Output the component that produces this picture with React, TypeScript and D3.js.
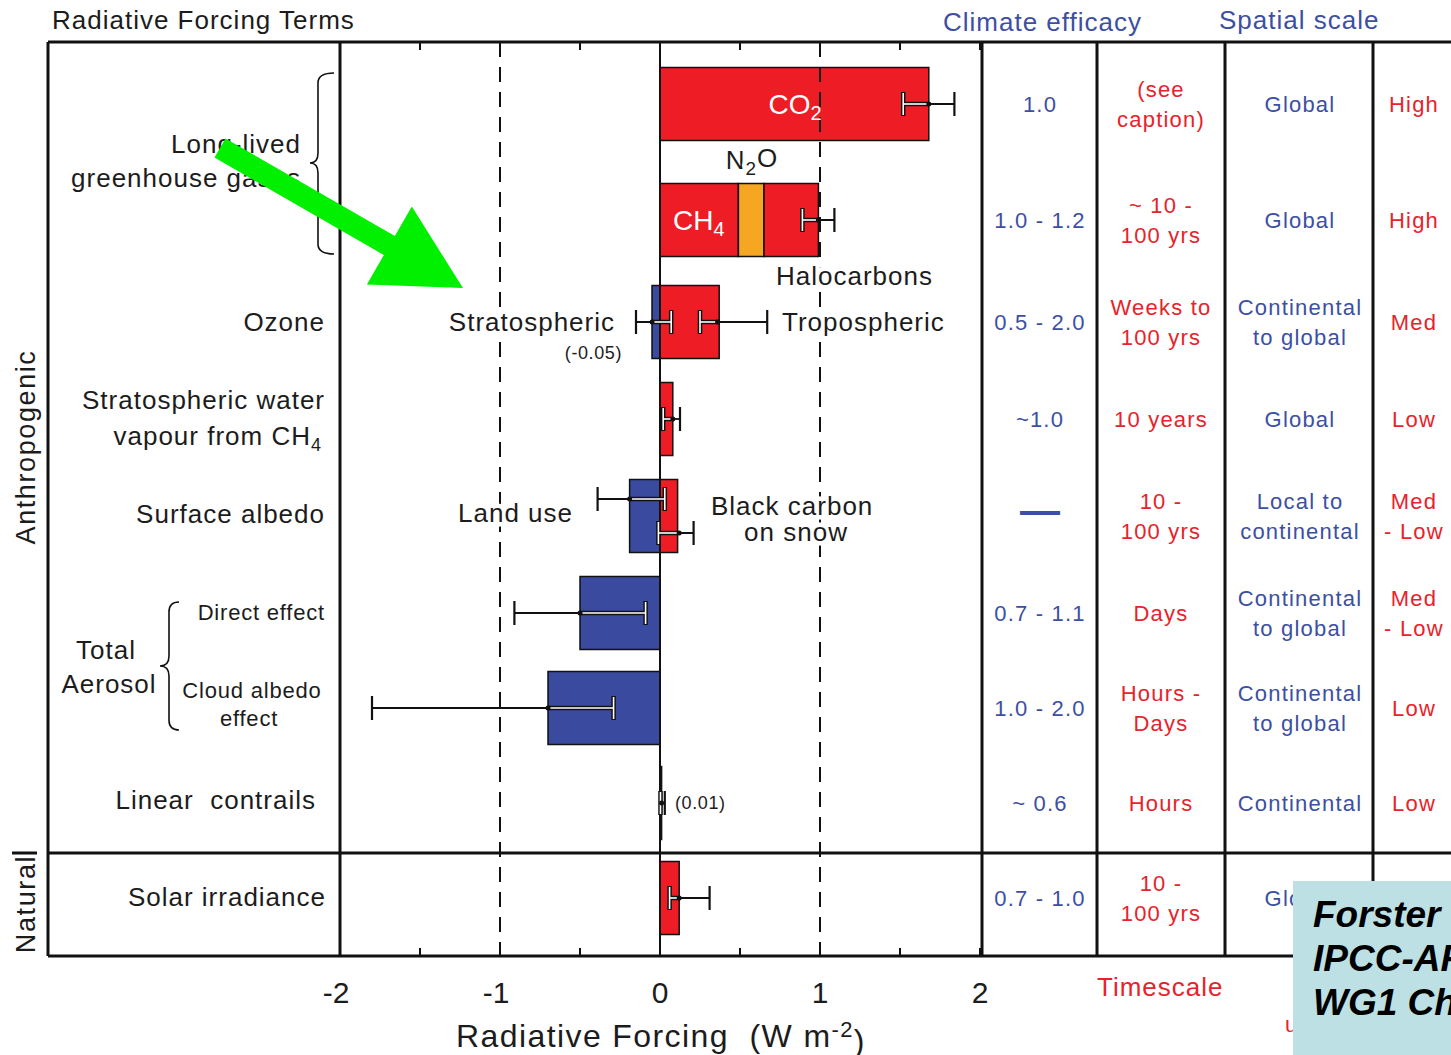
import React from 'react';
import * as d3 from 'd3';

// rows of the chart, top to bottom
const rows = ['co2', 'otherGhg', 'ozone', 'stratH2O', 'albedo', 'aerDirect', 'aerCloud', 'contrails', 'solar'];

// bar segments (W m-2), stacked outward from zero within a row
const barTerms = ['CO2', 'CH4', 'N2O', 'Halocarbons', 'Stratospheric O3', 'Tropospheric O3', 'Strat. H2O', 'Land use', 'BC on snow', 'Direct effect', 'Cloud albedo', 'Contrails', 'Solar'];
const barRows = ['co2', 'otherGhg', 'otherGhg', 'otherGhg', 'ozone', 'ozone', 'stratH2O', 'albedo', 'albedo', 'aerDirect', 'aerCloud', 'contrails', 'solar'];
const barForcing = [1.68, 0.49, 0.16, 0.34, -0.05, 0.37, 0.08, -0.19, 0.11, -0.5, -0.7, 0.01, 0.12];

// uncertainty ranges
const errRows = ['co2', 'otherGhg', 'ozone', 'ozone', 'stratH2O', 'albedo', 'albedo', 'aerDirect', 'aerCloud', 'contrails', 'solar'];
const errBest = [1.68, 0.99, -0.05, 0.36, 0.08, -0.19, 0.12, -0.5, -0.7, 0.01, 0.12];
const errLow = [1.52, 0.89, -0.15, 0.25, 0.02, -0.39, -0.01, -0.91, -1.8, 0.003, 0.06];
const errHigh = [1.84, 1.09, 0.07, 0.67, 0.125, 0.03, 0.21, -0.09, -0.29, 0.03, 0.31];
const errLane = [0, 0, 0, 0, 0, -1, 1, 0, 0, 0, 0];

// table columns
const efficacy = ['1.0', '1.0 - 1.2', '0.5 - 2.0', '~1.0', '\u2014', '0.7 - 1.1', '1.0 - 2.0', '~ 0.6', '0.7 - 1.0'];
const timescale = ['(see\ncaption)', '~ 10 -\n100 yrs', 'Weeks to\n100 yrs', '10 years', '10 -\n100 yrs', 'Days', 'Hours -\nDays', 'Hours', '10 -\n100 yrs'];
const spatial = ['Global', 'Global', 'Continental\nto global', 'Global', 'Local to\ncontinental', 'Continental\nto global', 'Continental\nto global', 'Continental', 'Global'];
const losu = ['High', 'High', 'Med', 'Low', 'Med\n- Low', 'Med\n- Low', 'Low', 'Low', 'Low'];

const xTickLabels = ['-2', '-1', '0', '1', '2'];

const FONT = 'Liberation Sans, Arial, Helvetica, sans-serif';
const RED = '#ee1c25';
const BLUE = '#3a4a9f';
const ORANGE = '#f5a623';
const TXT_RED = '#e8222b';
const TXT_BLUE = '#3c4fa3';
const INK = '#1c1c1c';

const TOP = 42;
const BOTTOM = 956;
const NATURAL = 853;
const BAR_H = 73;

// curly brace "{" with its point at (px, midY)
function brace(px: number, spineX: number, endX: number, top: number, mid: number, bottom: number) {
  const r = 10;
  return `M${endX},${top} Q${spineX},${top} ${spineX},${top + r} L${spineX},${mid - r} Q${spineX},${mid} ${px},${mid} Q${spineX},${mid} ${spineX},${mid + r} L${spineX},${bottom - r} Q${spineX},${bottom} ${endX},${bottom}`;
}

const App: React.FC = () => {
  const x = d3.scaleLinear().domain([-2, 2]).range([340, 980]);
  // rows are not evenly spaced: the greenhouse-gas rows sit further apart
  const y = d3.scaleLinear().domain([0, 1, 2, 5, rows.length - 1]).range([104, 220, 322, 613, 898]);
  const ry = (r: string) => y(rows.indexOf(r));

  // stack the segments per row
  const pos: Record<string, number> = {};
  const neg: Record<string, number> = {};
  const bars = barTerms.map((t, i) => {
    const r = barRows[i];
    const v = barForcing[i];
    let a: number, b: number;
    if (v >= 0) {
      a = pos[r] || 0;
      b = a + v;
      pos[r] = b;
    } else {
      b = neg[r] || 0;
      a = b + v;
      neg[r] = a;
    }
    const fill = t === 'N2O' ? ORANGE : v >= 0 ? RED : BLUE;
    return { t, r, a, b, fill };
  });
  const rowExtent = (r: string) => {
    const bs = bars.filter((d) => d.r === r);
    return [d3.min(bs, (d) => d.a) as number, d3.max(bs, (d) => d.b) as number];
  };

  // green arrow
  const S = [220, 148];
  const T = [463, 288];
  const len = Math.hypot(T[0] - S[0], T[1] - S[1]);
  const u = [(T[0] - S[0]) / len, (T[1] - S[1]) / len];
  const n = [-u[1], u[0]];
  const B = [T[0] - u[0] * 85, T[1] - u[1] * 85];
  const pt = (p: number[], k: number) => `${p[0] + n[0] * k},${p[1] + n[1] * k}`;
  const arrow = [pt(S, 11), pt(B, 11), pt(B, 45), `${T[0]},${T[1]}`, pt(B, -45), pt(B, -11), pt(S, -11)].join(' ');

  const multi = (txt: string, cx: number, cy: number, color: string, size = 22) => {
    const lines = txt.split('\n');
    return lines.map((l, k) => (
      <text key={k} x={cx} y={cy + (k - (lines.length - 1) / 2) * 30} dy="0.35em" textAnchor="middle" fill={color} fontSize={size} letterSpacing={1.2}>
        {l}
      </text>
    ));
  };

  const colLines = [982, 1097, 1225, 1373];

  return (
    <svg width={1451} height={1055} style={{ position: 'absolute', left: 0, top: 0, background: '#fff' }} fontFamily={FONT}>
      {/* header */}
      <text x={52} y={20} dy="0.35em" fontSize={26} letterSpacing={1} fill={INK}>Radiative Forcing Terms</text>
      <text x={943} y={22} dy="0.35em" fontSize={26} letterSpacing={1} fill={TXT_BLUE}>Climate efficacy</text>
      <text x={1219} y={20} dy="0.35em" fontSize={26} letterSpacing={1} fill={TXT_BLUE}>Spatial scale</text>

      {/* bars */}
      {bars.map((d, i) => (
        <rect key={i} x={x(d.a)} y={ry(d.r) - BAR_H / 2} width={x(d.b) - x(d.a)} height={BAR_H} fill={d.fill} stroke="#111" strokeWidth={1.5} />
      ))}

      {/* reference lines */}
      {[-1, 1].map((v) => (
        <line key={v} x1={x(v)} x2={x(v)} y1={TOP} y2={BOTTOM} stroke="#111" strokeWidth={2} strokeDasharray="15 10" />
      ))}
      <line x1={x(0)} x2={x(0)} y1={TOP} y2={BOTTOM} stroke="#111" strokeWidth={2} />

      {/* error bars */}
      {errRows.map((r, i) => {
        const cy = ry(r) + errLane[i] * 17;
        const [e0, e1] = rowExtent(r);
        const lo = errLow[i];
        const hi = errHigh[i];
        const a = Math.max(lo, e0);
        const b = Math.min(hi, e1);
        const inside = (v: number) => v >= e0 && v <= e1;
        return (
          <g key={i}>
            <line x1={x(lo)} x2={x(hi)} y1={cy} y2={cy} stroke="#111" strokeWidth={1.8} />
            {[lo, hi].filter((v) => !inside(v)).map((v, k) => (
              <line key={k} x1={x(v)} x2={x(v)} y1={cy - 12} y2={cy + 12} stroke="#111" strokeWidth={2.2} />
            ))}
            {b > a && (
              <>
                <line x1={x(a)} x2={x(b)} y1={cy} y2={cy} stroke="#111" strokeWidth={4.5} />
                {[lo, hi].filter((v) => inside(v)).map((v, k) => (
                  <line key={'o' + k} x1={x(v)} x2={x(v)} y1={cy - 12} y2={cy + 12} stroke="#111" strokeWidth={4.5} />
                ))}
                {[lo, hi].filter((v) => inside(v)).map((v, k) => (
                  <line key={'w' + k} x1={x(v)} x2={x(v)} y1={cy - 11} y2={cy + 11} stroke="#fff" strokeWidth={1.6} />
                ))}
                <line x1={x(a)} x2={x(b)} y1={cy} y2={cy} stroke="#fff" strokeWidth={1.6} />
              </>
            )}
            <circle cx={x(errBest[i])} cy={cy} r={2.5} fill="#111" />
          </g>
        );
      })}

      {/* frame */}
      <line x1={48} x2={1451} y1={TOP} y2={TOP} stroke="#111" strokeWidth={3} />
      <line x1={48} x2={1451} y1={BOTTOM} y2={BOTTOM} stroke="#111" strokeWidth={3} />
      <line x1={48} x2={1451} y1={NATURAL} y2={NATURAL} stroke="#111" strokeWidth={3} />
      <line x1={12} x2={37} y1={NATURAL} y2={NATURAL} stroke="#111" strokeWidth={3} />
      <line x1={48} x2={48} y1={TOP} y2={BOTTOM} stroke="#111" strokeWidth={3} />
      <line x1={x(-2)} x2={x(-2)} y1={TOP} y2={BOTTOM} stroke="#111" strokeWidth={3} />
      {colLines.map((cx) => (
        <line key={cx} x1={cx} x2={cx} y1={TOP} y2={BOTTOM} stroke="#111" strokeWidth={3} />
      ))}

      {/* ticks */}
      {x.ticks(8).map((v) => (
        <g key={v}>
          <line x1={x(v)} x2={x(v)} y1={BOTTOM} y2={BOTTOM - 8} stroke="#111" strokeWidth={2} />
          <line x1={x(v)} x2={x(v)} y1={TOP} y2={TOP + 8} stroke="#111" strokeWidth={2} />
        </g>
      ))}
      {x.ticks(4).map((v, i) => (
        <text key={v} x={x(v) - (v < 0 ? 4 : 0)} y={992} dy="0.35em" textAnchor="middle" fontSize={30} fill={INK}>{xTickLabels[i]}</text>
      ))}
      <text x={661} y={1036} dy="0.35em" textAnchor="middle" fontSize={32} letterSpacing={1.4} fill={INK} xmlSpace="preserve">
        Radiative Forcing  (W m<tspan dy="-0.45em" fontSize={22}>-2</tspan><tspan dy="0.45em">)</tspan>
      </text>

      {/* left labels */}
      <g fontSize={26} fill={INK} letterSpacing={1}>
        <text x={301} y={144} dy="0.35em" textAnchor="end">Long-lived</text>
        <text x={301} y={178} dy="0.35em" textAnchor="end">greenhouse gases</text>
        <text x={325} y={322} dy="0.35em" textAnchor="end">Ozone</text>
        <text x={325} y={400} dy="0.35em" textAnchor="end">Stratospheric water</text>
        <text x={322} y={436} dy="0.35em" textAnchor="end">
          vapour from CH<tspan dy="0.3em" fontSize={18}>4</tspan>
        </text>
        <text x={325} y={514} dy="0.35em" textAnchor="end">Surface albedo</text>
        <text x={106} y={650} dy="0.35em" textAnchor="middle">Total</text>
        <text x={109} y={684} dy="0.35em" textAnchor="middle">Aerosol</text>
        <text x={316} y={800} dy="0.35em" textAnchor="end" xmlSpace="preserve">Linear  contrails</text>
        <text x={326} y={897} dy="0.35em" textAnchor="end">Solar irradiance</text>
      </g>
      <g fontSize={27} fill={INK} letterSpacing={1.6}>
        <text transform="translate(26,447) rotate(-90)" dy="0.35em" textAnchor="middle">Anthropogenic</text>
        <text transform="translate(26,904) rotate(-90)" dy="0.35em" textAnchor="middle">Natural</text>
      </g>
      <g fontSize={22} fill={INK} letterSpacing={0.8}>
        <text x={325} y={612} dy="0.35em" textAnchor="end">Direct effect</text>
        <text x={252} y={690} dy="0.35em" textAnchor="middle">Cloud albedo</text>
        <text x={249} y={718} dy="0.35em" textAnchor="middle">effect</text>
      </g>
      <path d={brace(310, 318, 334, 73, 163, 254)} fill="none" stroke="#111" strokeWidth={1.6} />
      <path d={brace(160, 169, 179, 602, 666, 730)} fill="none" stroke="#111" strokeWidth={1.6} />

      {/* labels in the plot (white halo hides the dashed lines behind them) */}
      <text x={795} y={104} dy="0.35em" textAnchor="middle" fontSize={28} fill="#fff">
        CO<tspan dy="0.3em" fontSize={20}>2</tspan>
      </text>
      <text x={673} y={220} dy="0.35em" fontSize={28} fill="#fff">
        CH<tspan dy="0.3em" fontSize={20}>4</tspan>
      </text>
      <g fontSize={26} fill={INK} letterSpacing={1} stroke="#fff" strokeWidth={9} strokeLinejoin="round" style={{ paintOrder: 'stroke' }}>
        <text x={752} y={160} dy="0.35em" textAnchor="middle">
          N<tspan dy="0.3em" fontSize={19}>2</tspan><tspan dy="-0.3em">O</tspan>
        </text>
        <text x={776} y={276} dy="0.35em">Halocarbons</text>
        <text x={615} y={322} dy="0.35em" textAnchor="end">Stratospheric</text>
        <text x={782} y={322} dy="0.35em">Tropospheric</text>
        <text x={573} y={513} dy="0.35em" textAnchor="end">Land use</text>
        <text x={711} y={506} dy="0.35em">Black carbon</text>
        <text x={796} y={532} dy="0.35em" textAnchor="middle">on snow</text>
      </g>
      <text x={622} y={353} dy="0.35em" textAnchor="end" fontSize={18} letterSpacing={0.6} fill={INK}>(-0.05)</text>
      <text x={675} y={803} dy="0.35em" fontSize={18} letterSpacing={0.6} fill={INK}>(0.01)</text>

      {/* table columns */}
      {rows.map((r, i) => (
        <g key={r}>
          {efficacy[i] === '\u2014' ? (
            <text x={1040} y={ry(r) - 6} dy="0.35em" textAnchor="middle" fontSize={40} fontWeight="bold" fill={TXT_BLUE}>{efficacy[i]}</text>
          ) : (
            multi(efficacy[i], 1040, ry(r), TXT_BLUE)
          )}
          {multi(timescale[i], 1161, ry(r), TXT_RED)}
          {multi(spatial[i], 1300, ry(r), TXT_BLUE)}
          {multi(losu[i], 1414, ry(r), TXT_RED)}
        </g>
      ))}
      <text x={1097} y={987} dy="0.35em" fontSize={26} letterSpacing={1} fill={TXT_RED}>Timescale</text>
      <text x={1285} y={1024} dy="0.35em" fontSize={22} fill={TXT_RED}>understanding</text>

      {/* green arrow */}
      <polygon points={arrow} fill="#00f000" />

      {/* citation box */}
      <rect x={1293} y={881} width={170} height={174} fill="#bde0e4" />
      <g fontSize={37} fontWeight="bold" fontStyle="italic" fill="#000">
        <text x={1313} y={914} dy="0.35em">Forster et al.</text>
        <text x={1313} y={958} dy="0.35em">IPCC-AR4</text>
        <text x={1313} y={1002} dy="0.35em">WG1 Ch2</text>
      </g>
    </svg>
  );
};

export default App;
